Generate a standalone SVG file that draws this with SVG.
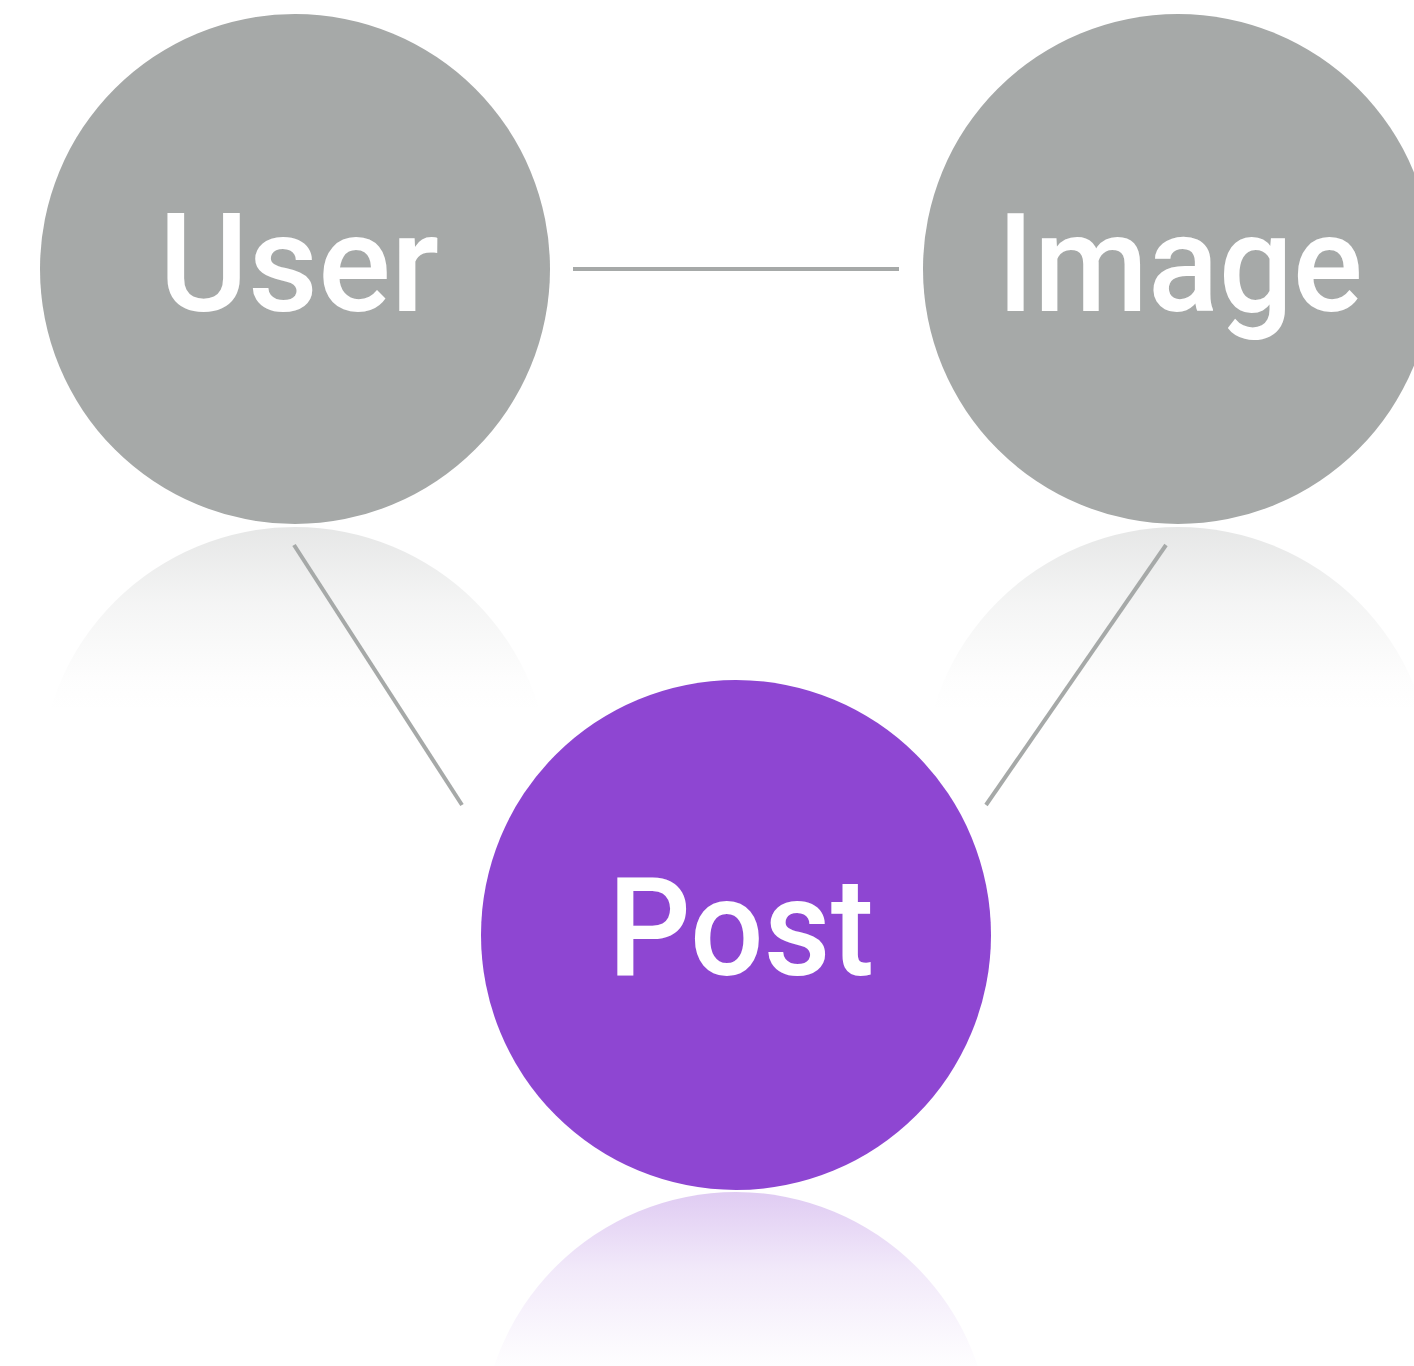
<svg xmlns="http://www.w3.org/2000/svg" width="1414" height="1366" viewBox="0 0 1414 1366">
<defs>
<linearGradient id="gGray" x1="0" y1="0" x2="0" y2="1">
<stop offset="0" stop-color="#a6a9a8" stop-opacity="0.28"/>
<stop offset="0.15" stop-color="#a6a9a8" stop-opacity="0.12"/>
<stop offset="0.3" stop-color="#a6a9a8" stop-opacity="0.02"/>
<stop offset="0.36" stop-color="#a6a9a8" stop-opacity="0"/>
</linearGradient>
<linearGradient id="gPurple" x1="0" y1="0" x2="0" y2="1">
<stop offset="0" stop-color="#8e46d2" stop-opacity="0.28"/>
<stop offset="0.15" stop-color="#8e46d2" stop-opacity="0.12"/>
<stop offset="0.3" stop-color="#8e46d2" stop-opacity="0.03"/>
<stop offset="0.36" stop-color="#8e46d2" stop-opacity="0"/>
</linearGradient>
<style>
.node{fill:#a6a9a8}
.post{fill:#8e46d2}
.lbl{font-family:Roboto,"Noto Sans",sans-serif;font-size:137px;font-weight:500;fill:#ffffff;text-anchor:middle}
.edge{stroke:#a6a9a8;stroke-width:4;fill:none}
</style>
</defs>
<rect width="1414" height="1366" fill="#ffffff"/>
<g id="reflections">
<circle cx="295" cy="782" r="255" fill="url(#gGray)"/>
<circle cx="1178" cy="782" r="255" fill="url(#gGray)"/>
<circle cx="736" cy="1447" r="255" fill="url(#gPurple)"/>
</g>
<g id="connectors">
<line class="edge" x1="573" y1="269" x2="899" y2="269"/>
<line class="edge" x1="294" y1="545" x2="462" y2="805"/>
<line class="edge" x1="1166" y1="545" x2="986" y2="805"/>
</g>
<g id="user">
<circle class="node" cx="295" cy="269" r="255"/>
<text class="lbl" x="299" y="311" textLength="280" lengthAdjust="spacingAndGlyphs">User</text>
</g>
<g id="image">
<circle class="node" cx="1178" cy="269" r="255"/>
<text class="lbl" x="1180" y="311" textLength="366" lengthAdjust="spacingAndGlyphs">Image</text>
</g>
<g id="post">
<circle class="post" cx="736" cy="935" r="255"/>
<text class="lbl" x="741" y="975" textLength="266" lengthAdjust="spacingAndGlyphs">Post</text>
</g>
</svg>
